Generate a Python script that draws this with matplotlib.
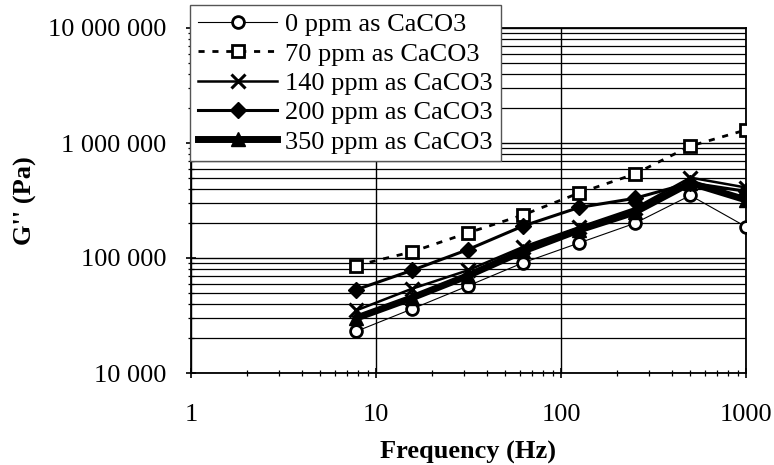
import matplotlib
matplotlib.use("Agg")
import matplotlib.pyplot as plt
from matplotlib.ticker import FuncFormatter, LogLocator, FixedLocator, NullFormatter

plt.rcParams['font.family'] = ['Liberation Serif', 'DejaVu Serif']

freq = [7.8125, 15.625, 31.25, 62.5, 125, 250, 500, 1000]
g_0 = [23000, 36000, 57000, 91000, 135000, 200000, 350000, 187000]
g_70 = [86000, 113000, 165000, 237000, 367000, 537000, 940000, 1300000]
g_140 = [35000, 54000, 78000, 125000, 185000, 270000, 500000, 410000]
g_200 = [53000, 78000, 118000, 190000, 275000, 330000, 450000, 380000]
g_350 = [30000, 45000, 70000, 115000, 175000, 250000, 450000, 320000]
labels = ["0 ppm as CaCO3", "70 ppm as CaCO3", "140 ppm as CaCO3",
          "200 ppm as CaCO3", "350 ppm as CaCO3"]
x_ticks = [1, 10, 100, 1000]
y_ticks = [10000, 100000, 1000000, 10000000]

W, H = 774, 465
fig = plt.figure(figsize=(W / 100, H / 100), dpi=100)
ax = fig.add_axes([191 / W, (H - 373) / H, 555 / W, 345 / H])
ax.set_xscale('log')
ax.set_yscale('log')
ax.set_xlim(1, 1000)
ax.set_ylim(1e4, 1e7)

# grid
ax.yaxis.set_minor_locator(LogLocator(base=10, subs=range(2, 10)))
ax.xaxis.set_minor_locator(LogLocator(base=10, subs=range(2, 10)))
ax.grid(True, which='major', axis='both', color='black', lw=1.0, zorder=0)
ax.grid(True, which='minor', axis='y', color='black', lw=0.9, zorder=0)
ax.set_axisbelow(True)

ax.plot(freq, g_0, color='black', lw=0.8, marker='o', ms=8.5, mfc='white',
        mec='black', mew=2.0, label=labels[0], zorder=3)
ax.plot(freq, g_70, color='black', lw=2.0, ls=(0, (2.2, 2.8)), marker='s', ms=9,
        mfc='white', mec='black', mew=2.0, label=labels[1], zorder=3)
ax.plot(freq, g_140, color='black', lw=1.8, marker='x', ms=9.5, mew=2.2,
        label=labels[2], zorder=3)
ax.plot(freq, g_200, color='black', lw=2.2, marker='D', ms=8.5,
        label=labels[3], zorder=3)
ax.plot(freq, g_350, color='black', lw=5.0, marker='^', ms=9.5,
        label=labels[4], zorder=3)

ax.xaxis.set_major_locator(FixedLocator(x_ticks))
ax.yaxis.set_major_locator(FixedLocator(y_ticks))
ax.xaxis.set_major_formatter(FuncFormatter(lambda v, p: f"{int(round(v))}"))
ax.yaxis.set_major_formatter(FuncFormatter(lambda v, p: f"{int(round(v)):,}".replace(",", " ")))
ax.xaxis.set_minor_formatter(NullFormatter())
ax.yaxis.set_minor_formatter(NullFormatter())

ax.tick_params(axis='both', which='major', direction='inout', length=7, width=1.2,
               labelsize=19, colors='black')
ax.tick_params(axis='both', which='minor', direction='inout', length=5, width=0.9)
ax.tick_params(axis='x', which='major', pad=19)
ax.tick_params(axis='y', which='major', pad=14)

for s in ax.spines.values():
    s.set_color('black')
    s.set_linewidth(1.3)

ax.set_xlabel("Frequency (Hz)", fontsize=19, fontweight='bold')
ax.xaxis.set_label_coords(0.5, -0.198)
ax.set_ylabel("G'' (Pa)", fontsize=19, fontweight='bold')
ax.yaxis.set_label_coords(-0.277, 0.5)

leg = fig.legend(loc='upper left', bbox_to_anchor=(190 / W, 1 - 5 / H),
                 borderaxespad=0, fontsize=19, handlelength=3.0,
                 handletextpad=0.3, labelspacing=0.22, borderpad=0.3,
                 frameon=True, fancybox=False, framealpha=1, edgecolor='#555555')
leg.get_frame().set_linewidth(1.0)

fig.savefig("out.png", dpi=100)
